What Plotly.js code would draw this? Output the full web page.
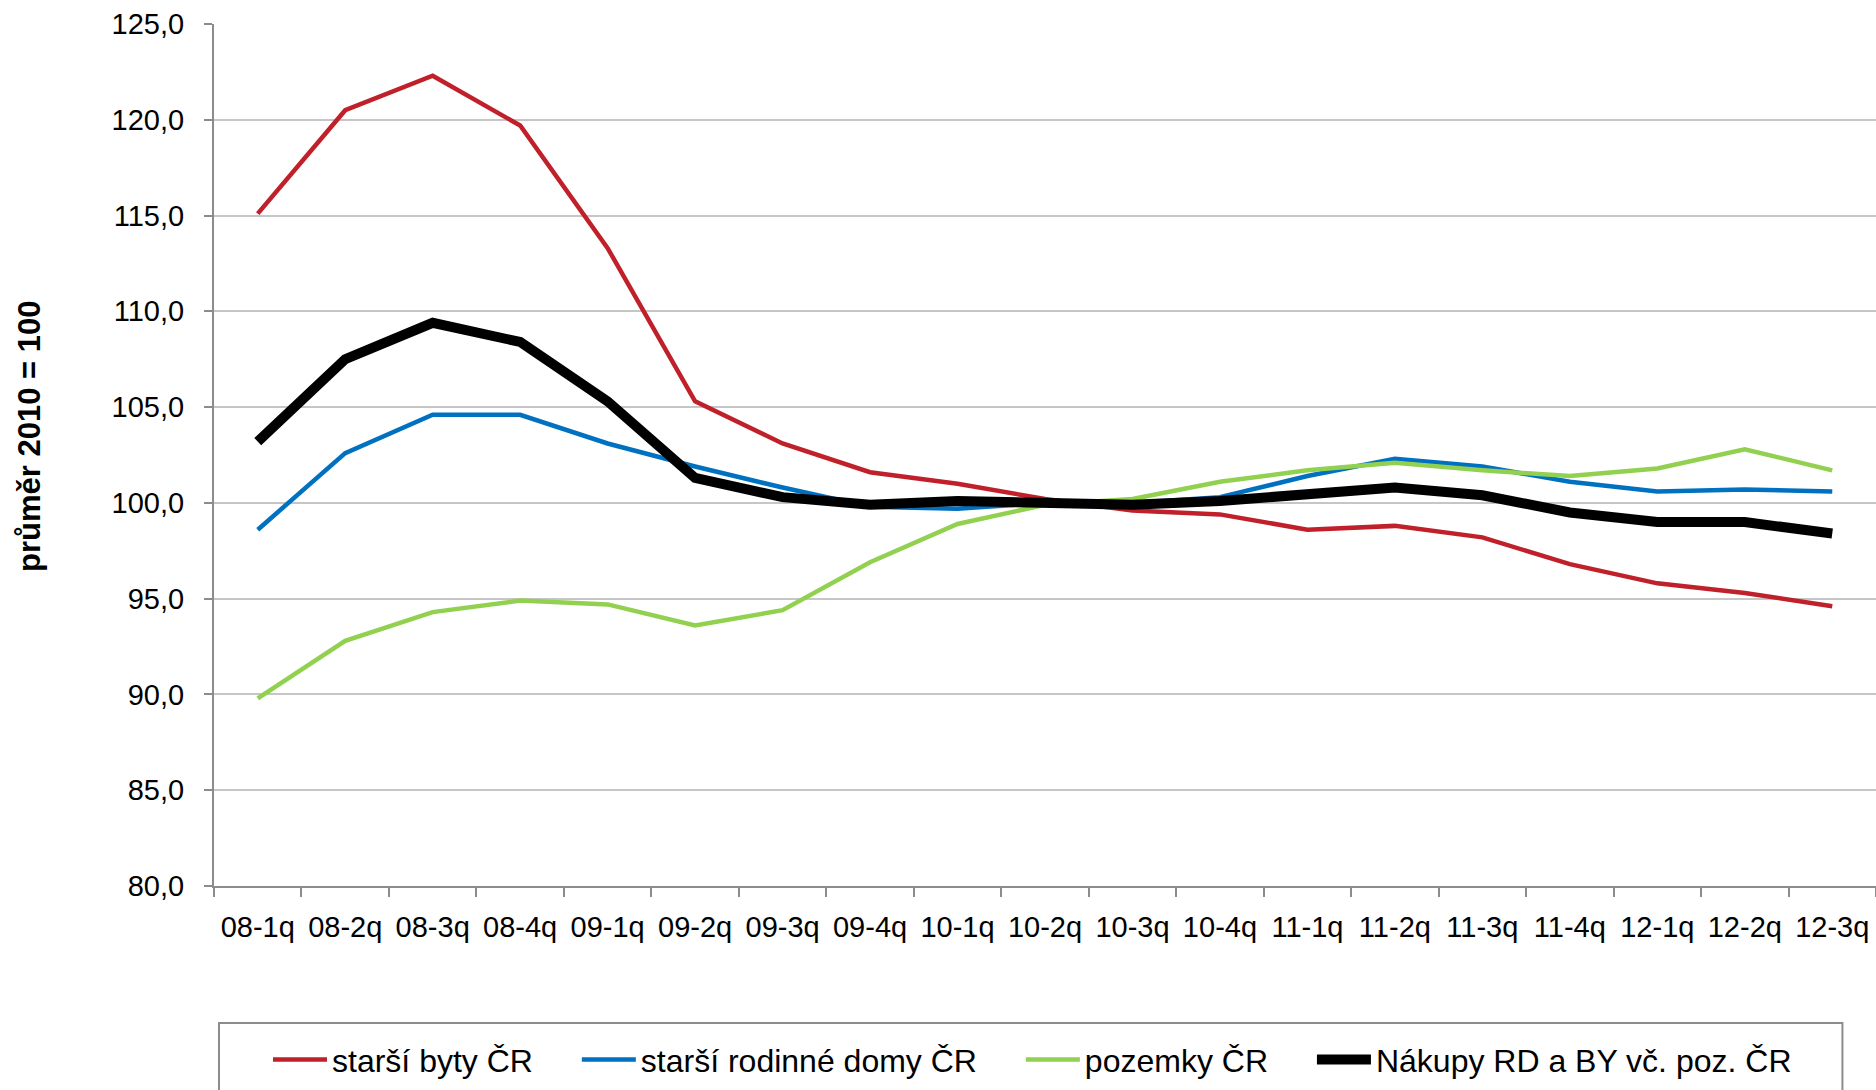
<!DOCTYPE html>
<html>
<head>
<meta charset="utf-8">
<script src="https://cdn.plot.ly/plotly-3.0.1.min.js"></script>
<style>
  html, body { margin: 0; padding: 0; background: #ffffff; }
  #chart { width: 1876px; height: 1090px; }
</style>
</head>
<body>
<div id="chart"></div>
<script>
// ---- data ----
const categories = ['08-1q','08-2q','08-3q','08-4q','09-1q','09-2q','09-3q','09-4q','10-1q','10-2q','10-3q','10-4q','11-1q','11-2q','11-3q','11-4q','12-1q','12-2q','12-3q'];
const seriesNames = ['starší byty ČR', 'starší rodinné domy ČR', 'pozemky ČR', 'Nákupy RD a BY vč. poz. ČR'];
const starsiByty = [115.1, 120.5, 122.3, 119.7, 113.3, 105.3, 103.1, 101.6, 101.0, 100.2, 99.6, 99.4, 98.6, 98.8, 98.2, 96.8, 95.8, 95.3, 94.6];
const starsiRodinneDomy = [98.6, 102.6, 104.6, 104.6, 103.1, 101.9, 100.8, 99.8, 99.7, 100.0, 100.0, 100.3, 101.4, 102.3, 101.9, 101.1, 100.6, 100.7, 100.6];
const pozemky = [89.8, 92.8, 94.3, 94.9, 94.7, 93.6, 94.4, 96.9, 98.9, 99.9, 100.2, 101.1, 101.7, 102.1, 101.7, 101.4, 101.8, 102.8, 101.7];
const nakupy = [103.2, 107.5, 109.4, 108.4, 105.3, 101.3, 100.3, 99.9, 100.1, 100.0, 99.9, 100.1, 100.4, 100.8, 100.4, 99.5, 99.0, 99.0, 98.4];
const yTitle = 'průměr 2010 = 100';

const FONT = 'Liberation Sans, Arial, sans-serif';
const PAD = '<span style="font-size:28px">\u00A0\u00A0\u00A0\u00A0\u00A0</span>';

const traces = [
  {x: categories, y: starsiByty, name: seriesNames[0] + PAD, type: 'scatter', mode: 'lines', line: {color: '#C0202A', width: 4.5}},
  {x: categories, y: starsiRodinneDomy, name: seriesNames[1] + PAD, type: 'scatter', mode: 'lines', line: {color: '#0070C0', width: 4.5}},
  {x: categories, y: pozemky, name: seriesNames[2] + PAD, type: 'scatter', mode: 'lines', line: {color: '#92D050', width: 4.5}},
  {x: categories, y: nakupy, name: seriesNames[3], type: 'scatter', mode: 'lines', line: {color: '#000000', width: 10}}
];

const layout = {
  width: 1876, height: 1090,
  margin: {l: 214, r: 0, t: 24, b: 204, pad: 0},
  paper_bgcolor: '#ffffff', plot_bgcolor: '#ffffff',
  separators: ', ',
  font: {family: FONT, size: 29, color: '#000000'},
  showlegend: true,
  xaxis: {
    type: 'category', range: [-0.5, 18.5], fixedrange: true,
    showgrid: false, zeroline: false,
    showline: true, linecolor: '#8c8c8c', linewidth: 2,
    ticks: 'outside', tickson: 'boundaries', ticklen: 9, tickcolor: '#8c8c8c', tickwidth: 2,
    tickfont: {family: FONT, size: 29, color: '#000000'},
    ticklabelstandoff: 14
  },
  yaxis: {
    range: [80, 125], dtick: 5, tick0: 80, tickformat: '.1f', fixedrange: true,
    showgrid: true, gridcolor: '#c6c6c6', gridwidth: 2, zeroline: false,
    showline: true, linecolor: '#8c8c8c', linewidth: 2,
    ticks: 'outside', ticklen: 8, tickcolor: '#8c8c8c', tickwidth: 2,
    tickfont: {family: FONT, size: 29, color: '#000000'},
    ticklabelstandoff: 14
  },
  legend: {
    orientation: 'h', x: 0.0325, xanchor: 'left', y: -0.1695, yanchor: 'top',
    bgcolor: 'rgba(0,0,0,0)', borderwidth: 0, itemwidth: 54,
    font: {family: FONT, size: 32, color: '#000000'}
  },
  shapes: [
    {type: 'rect', xref: 'paper', yref: 'paper', x0: 0.00301, x1: 0.9798, y0: -0.1589, y1: -0.26,
     line: {color: '#8c8c8c', width: 2}, fillcolor: 'rgba(0,0,0,0)', layer: 'below'}
  ],
  annotations: [
    {text: '<b>' + yTitle + '</b>', xref: 'paper', yref: 'paper', x: -0.1107, y: 0.5209,
     xanchor: 'center', yanchor: 'middle', textangle: -90, showarrow: false,
     font: {family: FONT, size: 31, color: '#000000'}}
  ]
};

Plotly.newPlot('chart', traces, layout, {displayModeBar: false, staticPlot: true});
</script>
</body>
</html>
